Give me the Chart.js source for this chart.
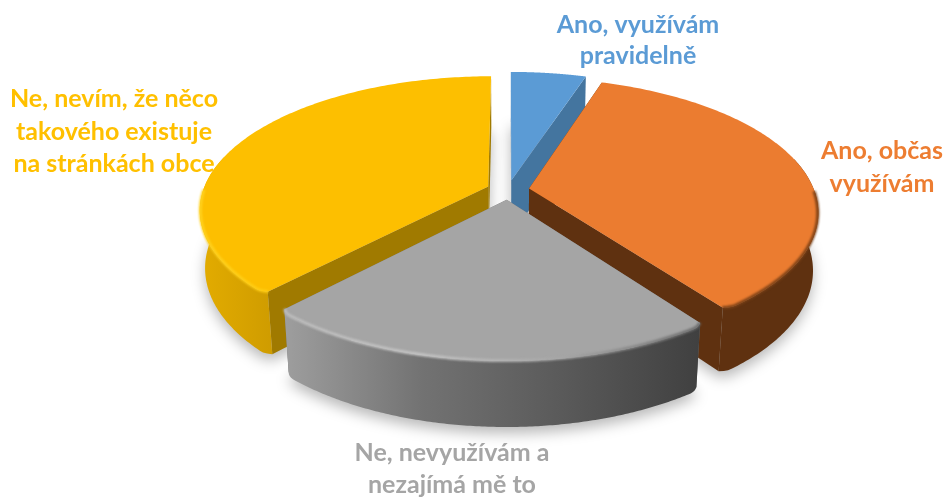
<!DOCTYPE html>
<html>
<head>
<meta charset="utf-8">
<style>html,body{margin:0;padding:0;background:#fff}canvas{display:block;filter:blur(0.4px)}</style>
<script src="https://cdn.jsdelivr.net/npm/chart.js@4/dist/chart.umd.min.js"></script>
</head>
<body>
<canvas id="c" width="946" height="497"></canvas>
<script>
const categories = ["Ano, využívám pravidelně","Ano, občas využívám","Ne, nevyužívám a nezajímá mě to","Ne, nevím, že něco takového existuje na stránkách obce"];
const shares = [5,35,22,38];
const topColors = ["#5B9BD5","#EB7C30","#A5A5A5","#FDBF00"];
const radialColors = ["#44759F","#5F3110","#777777","#A07A00"];
const outerStops = [["#44759F","#44759F"],["#5F3110","#5F3110"],["#9E9E9E","#727272","#5A5A5A","#404040"],["#E3AC00","#CF9C00"]];
const rimStops = [["#5B9BD5","#5B9BD5"],["#7A4016","#7A4016"],["#BDBDBD","#C4C4C4","#A6A6A6","#6A6A6A"],["#FFD21F","#FFCC10"]];
const labelLines = [["Ano, využívám","pravidelně"],["Ano, občas","využívám"],["Ne, nevyužívám a","nezajímá mě to"],["Ne, nevím, že něco","takového existuje","na stránkách obce"]];
const labelColors = ["#5B9BD5","#ED7D31","#A5A5A5","#FFC000"];
const labelAnchors = [[638,33,31],[882,159,33],[452,461,32],[114,107,32.5]];
const paintOrder = [0,3,1,2];

const view = {cx:508, cy:190, s:285, t:130, p:0.17, q:0.017, u:58};
const explodeUnit = 1/400;
function project(X,Y,Z){
  const w = 1 - view.p*Y + view.q*Z;
  return [view.cx + view.s*X/w, view.cy + (view.t*Y + view.u*Z)/w];
}
function samples(a0,a1,n){const o=[];for(let i=0;i<=n;i++)o.push(a0+(a1-a0)*i/n);return o;}
function poly(ctx,pts){ctx.beginPath();pts.forEach((p,i)=>i?ctx.lineTo(p[0],p[1]):ctx.moveTo(p[0],p[1]));}
function gradientOver(ctx,pts,stops){
  const xs=pts.map(p=>p[0]);const g=ctx.createLinearGradient(Math.min(...xs),0,Math.max(...xs),0);
  stops.forEach((c,i)=>g.addColorStop(i/(stops.length-1),c));return g;
}
const pie3d = {
  id:'pie3d',
  beforeDatasetDraw(chart){
    const ctx=chart.ctx, arcs=chart.getDatasetMeta(0).data;
    const geo=arcs.map(a=>{
      const e=a.options.offset*explodeUnit, m=(a.startAngle+a.endAngle)/2;
      const ox=Math.cos(m)*e, oy=Math.sin(m)*e, a0=a.startAngle, a1=a.endAngle;
      const soft=(ang)=>{
        if(Math.sin(ang)<=0) return 1;
        const d=Math.min(ang-a0,a1-ang), k=Math.max(0,1-d/0.04);
        return 1-0.015*k*k;
      };
      return {a0,a1,ox,oy,color:a.options.backgroundColor,
        rim:(ang,r,Z)=>{const rr=r*soft(ang);return project(ox+Math.cos(ang)*rr,oy+Math.sin(ang)*rr,Z);},
        apex:(Z)=>project(ox,oy,Z)};
    });
    ctx.save();
    ctx.filter='blur(7px)';
    ctx.fillStyle='rgba(0,0,0,0.28)';
    geo.forEach(g=>{
      const pts=[g.apex(1.02)].concat(samples(g.a0,g.a1,80).map(a=>g.rim(a,1.0,1.02)));
      ctx.save();ctx.translate(0,5);poly(ctx,pts);ctx.closePath();ctx.fill();ctx.restore();
    });
    ctx.filter='none';
    paintOrder.forEach(i=>{
      const g=geo[i];
      [g.a0,g.a1].forEach(a=>{
        poly(ctx,[g.apex(0),g.rim(a,1,0),g.rim(a,1,1),g.apex(1)]);ctx.closePath();
        ctx.fillStyle=radialColors[i];ctx.fill();
      });
      const arcAngles=samples(g.a0,g.a1,160);
      const topEdge=arcAngles.map(a=>g.rim(a,1,0));
      const vis=arcAngles.filter(a=>Math.sin(a)>-0.25);
      if(vis.length>1){
        const wall=vis.map(a=>g.rim(a,1,0)).concat(vis.slice().reverse().map(a=>g.rim(a,1,1)));
        poly(ctx,wall);ctx.closePath();
        ctx.fillStyle=gradientOver(ctx,wall,outerStops[i]);ctx.fill();
      }
      poly(ctx,[g.apex(0)].concat(topEdge));ctx.closePath();
      ctx.fillStyle=g.color;ctx.fill();
      const front=arcAngles.filter(a=>Math.sin(a)>0.02);
      if(front.length>1 && i!==0){
        const band=front.map(a=>g.rim(a,0.998,0));
        ctx.save();
        ctx.filter='blur(1.2px)';
        poly(ctx,band);
        ctx.lineWidth=3;ctx.lineCap='butt';
        ctx.strokeStyle=gradientOver(ctx,band,rimStops[i]);ctx.stroke();
        ctx.restore();
      }
    });
    ctx.restore();
    return false;
  },
  afterDraw(chart){
    const ctx=chart.ctx;
    ctx.save();
    ctx.font='bold 25px Lato, "Open Sans", sans-serif';
    ctx.textAlign='center';ctx.textBaseline='alphabetic';
    labelLines.forEach((lines,i)=>{
      ctx.fillStyle=labelColors[i];
      const [x,y,lh]=labelAnchors[i];
      lines.forEach((s,k)=>ctx.fillText(s,x,y+k*lh));
    });
    ctx.restore();
  }
};
new Chart(document.getElementById('c'),{
  type:'pie',
  data:{labels:categories,datasets:[{data:shares,backgroundColor:topColors,offset:30,borderWidth:0}]},
  options:{responsive:false,animation:false,plugins:{legend:{display:false},tooltip:{enabled:false}}},
  plugins:[pie3d]
});
</script>
</body>
</html>
